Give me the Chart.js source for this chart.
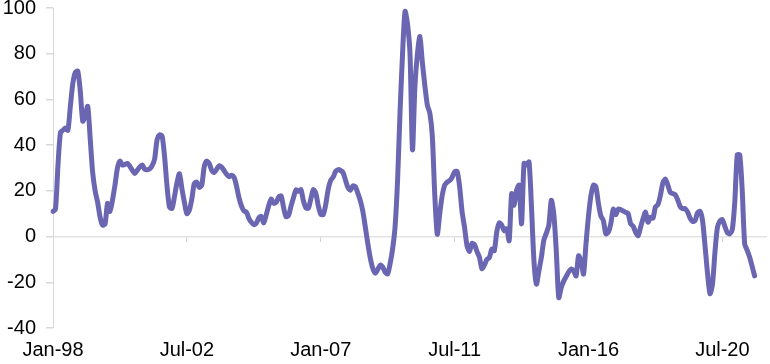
<!DOCTYPE html>
<html>
<head>
<meta charset="utf-8">
<script src="https://cdn.jsdelivr.net/npm/chart.js@4"></script>
<style>
html, body { margin: 0; padding: 0; background: #fff; }
#grafico { display: block; }
</style>
</head>
<body>
<canvas id="grafico" width="770" height="364"></canvas>
<script>
// monthly values from Jan-98
var values = [
  11, 12, 31, 45.5, 46.5, 47.5, 46.5, 57, 67, 71.8, 72.4, 63.6,
  50.5, 53, 57, 43, 28, 20, 15, 8.5, 5, 5.5, 14.5, 11,
  16, 22.5, 30, 33, 31.3, 31.6, 32, 30.8, 29, 27.6, 29, 30.5,
  31.3, 29.5, 29.2, 29.6, 31, 34, 42.5, 44.5, 44, 35, 22, 12.8,
  12.3, 17.5, 23.5, 27.5, 21, 15, 10, 11.5, 16.5, 23.2, 23.8, 21.5,
  22.5, 30.5, 33, 32, 29, 28, 29.4, 31, 30.4, 28.9, 27.3, 26.2,
  26.8, 26, 22.2, 17, 13.4, 11.2, 10.7, 8, 6.3, 5.2, 5.8, 8.1,
  8.8, 6, 9.5, 13.5, 16.4, 14.6, 14.9, 17.2, 17.8, 12.8, 8.7, 9.2,
  13.3, 17, 20.4, 19.8, 20.5, 15.7, 12.6, 12.4, 16.5, 20.5, 19, 13.5,
  9.8, 9.6, 14, 20.6, 24.6, 26, 28.5, 29.3, 28.9, 28, 24.6, 21.4,
  20.3, 22.2, 21.8, 18.8, 15.6, 10.9, 4, -3.2, -9.5, -14, -16, -14.4,
  -12.5, -13.3, -15.6, -16.3, -11.7, -5.3, 4.5, 25, 55, 80, 98.5, 93,
  80, 38, 66, 80, 87.5, 76, 66, 57.5, 54, 44, 18, 1,
  10, 18, 22.5, 23.8, 24.5, 26, 28.3, 28.5, 22, 11, 4, -4,
  -6.5, -3, -3.5, -6.5, -9, -14, -12.5, -10, -9.2, -5.5, -6.2, 2,
  6, 5, 2.6, 3.4, -1.8, 18.8, 13.7, 20.3, 22.5, 5.6, 32, 31.3,
  32.7, 13, -10.6, -20.8, -15, -9, -1.5, 1.5, 5, 15.9, 10, -6.2,
  -26.7, -22.3, -19.5, -17.5, -15.5, -14.2, -15, -17.2, -8.4, -10.6, -16.4, -3,
  9, 18, 22.5, 21.7, 14.5, 9, 7, 1.2, 1.9, 5.6, 12, 9.5,
  12, 11.8, 11.2, 10.6, 10, 5.6, 4.5, 1.9, 0.4, 4.1, 7.8, 10.7,
  6.3, 8.5, 8, 13, 14, 18, 23.5, 25.2, 22.5, 19.3, 18.8, 18.3,
  16, 13, 12.2, 12.2, 10.7, 8, 6.6, 7, 10.5, 11, 7, -4,
  -16, -25, -21, -7, 4, 6.8, 7.4, 4.5, 1.7, 1.2, 3, 15,
  35.7, 35.7, 20.3, -3.2, -6, -9, -13, -17.2
];

var tickLabels = ['Jan-98', 'Jul-02', 'Jan-07', 'Jul-11', 'Jan-16', 'Jul-20'];
var monthNames = ['Jan', 'Feb', 'Mar', 'Apr', 'May', 'Jun', 'Jul', 'Aug', 'Sep', 'Oct', 'Nov', 'Dec'];
var startYear = 1998;
var axisMonths = 289; // axis runs a few months past the last value

var months = [];
for (var i = 0; i < axisMonths; i++) {
  var yy = (startYear + Math.floor(i / 12)) % 100;
  months.push(monthNames[i % 12] + '-' + (yy < 10 ? '0' + yy : yy));
}

var fontLabel = { family: 'Liberation Sans, Arial, sans-serif', size: 20 };

var ctx = document.getElementById('grafico').getContext('2d');

var grafico = new Chart(ctx, {
  type: 'line',
  data: {
    labels: months,
    datasets: [{
      data: values,
      borderColor: '#6a66b2',
      borderWidth: 5,
      pointRadius: 0,
      tension: 0.25,
      borderJoinStyle: 'round',
      borderCapStyle: 'round',
      fill: false
    }]
  },
  options: {
    responsive: false,
    animation: false,
    layout: { padding: { top: 8, right: 3, bottom: 0, left: 0 } },
    plugins: {
      legend: { display: false },
      tooltip: { enabled: false }
    },
    scales: {
      x: {
        type: 'category',
        position: 'bottom',
        grid: { display: false, drawTicks: false },
        border: { display: false },
        ticks: {
          autoSkip: false,
          maxRotation: 0,
          padding: 10,
          color: '#000',
          font: fontLabel,
          callback: function(v) {
            var l = this.getLabelForValue(v);
            return tickLabels.indexOf(l) >= 0 ? l : '';
          }
        },
        afterFit: function(scale) {
          scale.height = 36;
          scale.paddingLeft = 0;
          scale.paddingRight = 0;
        }
      },
      x0: {
        type: 'category',
        position: { y: 0 },
        grid: {
          drawOnChartArea: false,
          tickLength: 5,
          tickColor: function(c) {
            return tickLabels.indexOf(months[c.index]) >= 0 ? '#d4d4d4' : 'rgba(0,0,0,0)';
          }
        },
        border: { display: false },
        ticks: { display: false, autoSkip: false }
      },
      y: {
        min: -40,
        max: 100,
        ticks: { stepSize: 20, padding: 10, color: '#000', font: fontLabel },
        grid: {
          color: function(c) {
            return c.tick && c.tick.value === 0 ? '#e3e3e3' : 'rgba(0,0,0,0)';
          },
          lineWidth: 1.5,
          tickLength: 7,
          tickColor: '#d9d9d9'
        },
        border: { color: '#d9d9d9', width: 1 },
        afterFit: function(scale) {
          scale.width = 53;
          scale.paddingTop = 0;
          scale.paddingBottom = 0;
        }
      }
    }
  }
});
</script>
</body>
</html>
